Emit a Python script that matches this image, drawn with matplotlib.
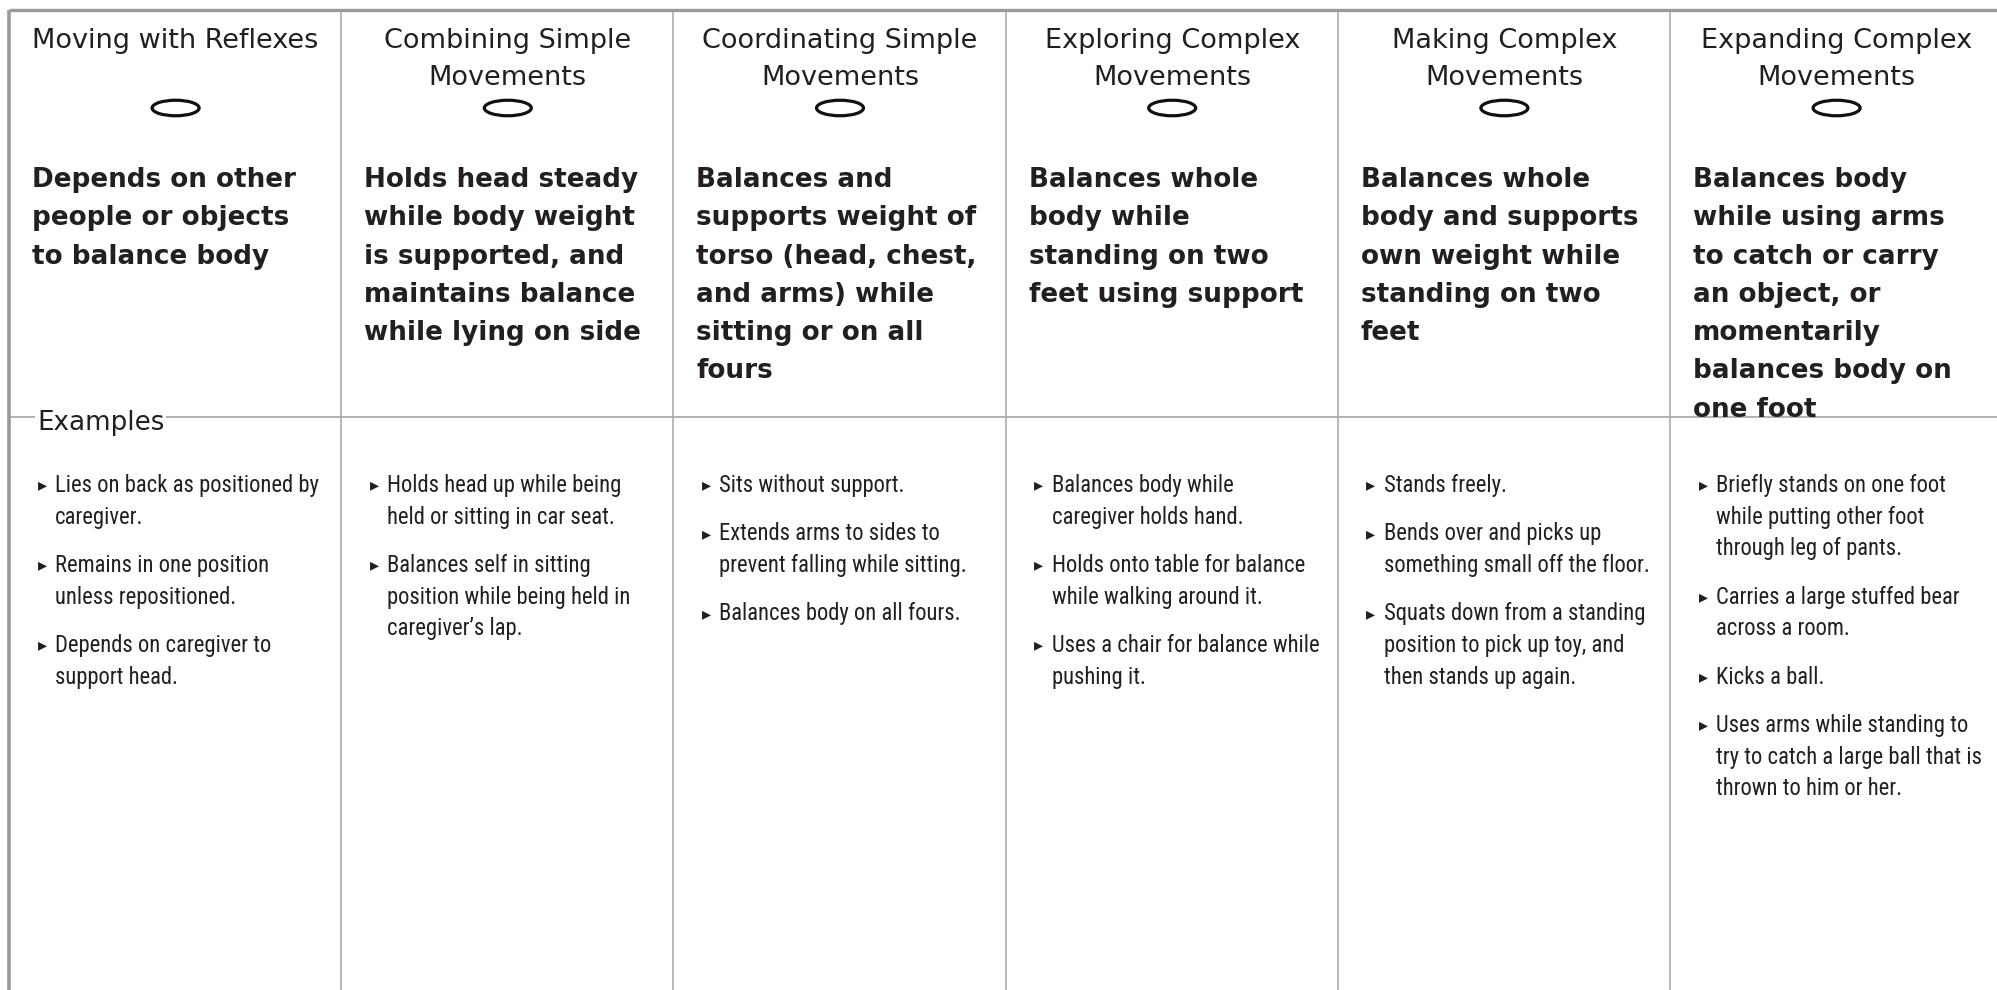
import matplotlib
matplotlib.use("Agg")
import matplotlib.pyplot as plt
from matplotlib.patches import Ellipse
from matplotlib import font_manager

# ---------------- data ----------------
headers = [
    "Moving with Reflexes",
    "Combining Simple\nMovements",
    "Coordinating Simple\nMovements",
    "Exploring Complex\nMovements",
    "Making Complex\nMovements",
    "Expanding Complex\nMovements",
]

descriptions = [
    "Depends on other\npeople or objects\nto balance body",
    "Holds head steady\nwhile body weight\nis supported, and\nmaintains balance\nwhile lying on side",
    "Balances and\nsupports weight of\ntorso (head, chest,\nand arms) while\nsitting or on all\nfours",
    "Balances whole\nbody while\nstanding on two\nfeet using support",
    "Balances whole\nbody and supports\nown weight while\nstanding on two\nfeet",
    "Balances body\nwhile using arms\nto catch or carry\nan object, or\nmomentarily\nbalances body on\none foot",
]

examples_label = "Examples"

examples = [
    ["Lies on back as positioned by\ncaregiver.",
     "Remains in one position\nunless repositioned.",
     "Depends on caregiver to\nsupport head."],
    ["Holds head up while being\nheld or sitting in car seat.",
     "Balances self in sitting\nposition while being held in\ncaregiver\u2019s lap."],
    ["Sits without support.",
     "Extends arms to sides to\nprevent falling while sitting.",
     "Balances body on all fours."],
    ["Balances body while\ncaregiver holds hand.",
     "Holds onto table for balance\nwhile walking around it.",
     "Uses a chair for balance while\npushing it."],
    ["Stands freely.",
     "Bends over and picks up\nsomething small off the floor.",
     "Squats down from a standing\nposition to pick up toy, and\nthen stands up again."],
    ["Briefly stands on one foot\nwhile putting other foot\nthrough leg of pants.",
     "Carries a large stuffed bear\nacross a room.",
     "Kicks a ball.",
     "Uses arms while standing to\ntry to catch a large ball that is\nthrown to him or her."],
]

# ---------------- fonts ----------------
available = {f.name for f in font_manager.fontManager.ttflist}
narrow_kw = {}
for cand in ["Liberation Sans Narrow", "Roboto Condensed", "Open Sans Condensed"]:
    if cand in available:
        narrow_kw = {"family": cand}
        break
if not narrow_kw:
    narrow_kw = {"family": "DejaVu Sans", "stretch": "condensed"}

TXT = "#231f20"
GRID = "#ababab"
BORDER = "#9a9a9a"

W, H = 1997, 990
fig = plt.figure(figsize=(W / 100, H / 100), dpi=100)
ax = fig.add_axes([0, 0, 1, 1])
ax.set_xlim(0, W)
ax.set_ylim(H, 0)
ax.axis("off")

left0 = 9
col_w = 332.2
top_y = 9.5
ex_line_y = 417

# borders
ax.plot([left0, W], [top_y, top_y], color=BORDER, lw=2.4, solid_capstyle="butt", zorder=3)
ax.plot([left0, left0], [top_y, H], color=BORDER, lw=2.6, solid_capstyle="butt", zorder=3)
for i in range(1, len(headers)):
    x = left0 + i * col_w
    ax.plot([x, x], [top_y, H], color=GRID, lw=1.2, zorder=2)

# examples separator line with label
ax.plot([left0, W], [ex_line_y, ex_line_y], color=GRID, lw=1.3, zorder=2)
ax.text(37, 430, examples_label, fontsize=18.8, family="DejaVu Sans", color=TXT,
        ha="left", va="baseline", zorder=4,
        bbox=dict(facecolor="white", edgecolor="none", pad=1.5))

head_line = 37.0
desc_line = 38.3
bul_line = 31.7
bul_gap = 16.6

for i in range(len(headers)):
    left = left0 + i * col_w
    cx = left + col_w / 2 + 0.5
    # header
    for j, ln in enumerate(headers[i].split("\n")):
        ax.text(cx, 48 + j * head_line, ln, fontsize=19.5, family="DejaVu Sans",
                color=TXT, ha="center", va="baseline")
    # ellipse
    ax.add_patch(Ellipse((cx, 108), 47, 15.5, facecolor="none",
                         edgecolor="#111111", lw=2.3, zorder=4))
    # bold description
    for j, ln in enumerate(descriptions[i].split("\n")):
        ax.text(left + 23, 187 + j * desc_line, ln, fontsize=18.9,
                family="DejaVu Sans", weight="bold", color=TXT,
                ha="left", va="baseline")
    # bullets
    y = 492
    for item in examples[i]:
        lines = item.split("\n")
        ax.text(left + 28.5, y - 6.5, "\u25b8", fontsize=13, family="DejaVu Sans",
                color=TXT, ha="left", va="center")
        for j, ln in enumerate(lines):
            ax.text(left + 46, y + j * bul_line, ln, fontsize=16.3, color=TXT,
                    ha="left", va="baseline", **narrow_kw)
        y += len(lines) * bul_line + bul_gap

fig.savefig("out.png", dpi=100, facecolor="white")
